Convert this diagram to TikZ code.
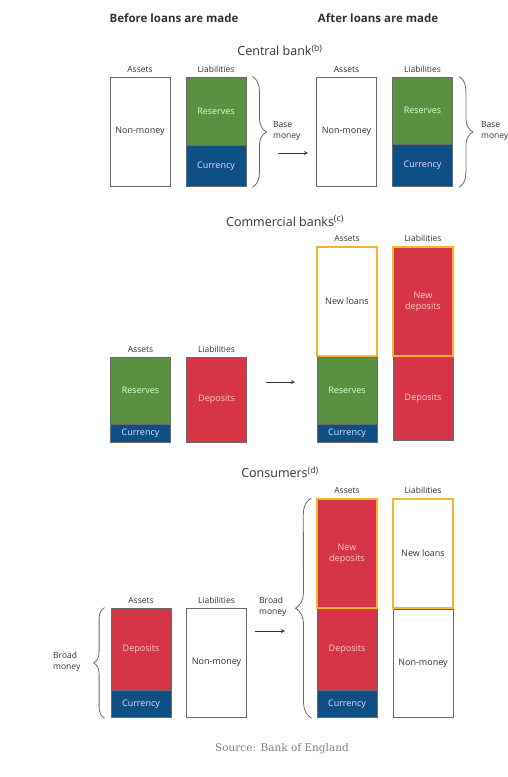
\documentclass[tikz,border=0pt]{standalone}
\usepackage{fontspec}
\setmainfont{Open Sans}
\newfontfamily\srcfont{DejaVu Serif}
\usepackage{xcolor}
\usetikzlibrary{positioning}
\usetikzlibrary{decorations.pathreplacing}
\definecolor{boeGreen}{HTML}{5A9140}
\definecolor{boeRed}{HTML}{D63447}
\definecolor{boeBlue}{HTML}{0E4F85}
\definecolor{boeOrange}{HTML}{F5B52E}
\definecolor{boxGray}{HTML}{6A6A6A}
\definecolor{txtGray}{HTML}{333333}

\begin{document}
\begin{tikzpicture}[x=1pt, y=-1pt,
    box/.style={
        draw=boxGray, line width=0.8pt,
        minimum width=60pt, inner sep=0pt,
        font=\fontsize{9}{11}\selectfont, align=center
    },
    white box/.style={box, fill=white, text=txtGray},
    green box/.style={box, fill=boeGreen, text=green!15!white},
    red box/.style={box, fill=boeRed, text=red!20!white},
    blue box/.style={box, fill=boeBlue, text=blue!12!white},
    new box/.style={draw=boeOrange, line width=1.4pt},
    col label/.style={font=\fontsize{8.5}{10}\selectfont, text=txtGray, inner sep=1pt},
    side label/.style={font=\fontsize{8.5}{11}\selectfont, text=txtGray, align=left, anchor=west, inner sep=0pt},
    title/.style={font=\fontsize{12.5}{14}\selectfont, text=txtGray},
    head/.style={font=\fontsize{11.5}{14}\selectfont\bfseries, text=txtGray},
    brace/.style={decorate, decoration={brace, amplitude=#1}, draw=boxGray, line width=0.8pt},
    arr/.style={-stealth, line width=0.8pt, txtGray}
]
\useasboundingbox (0,0) rectangle (508,777);

\node[head] (hdBefore) at (174,18) {Before loans are made};
\node[head] (hdAfter) at (378,18) {After loans are made};

% central bank
\node[title] (cbTitle) at (280,50) {Central bank\textsuperscript{(b)}};
\node[white box, minimum height=109] (cbBefA) at (140,131.5) {Non-money};
\node[col label, above=3pt of cbBefA] {Assets};
\node[green box, minimum height=68] (cbBefRes) at (216,111) {Reserves};
\node[blue box, minimum height=41, below=0pt of cbBefRes] (cbBefCur) {Currency};
\node[col label, above=3pt of cbBefRes] {Liabilities};
\draw[brace=14pt] ([xshift=6]cbBefRes.north east) -- ([xshift=6]cbBefCur.south east);
\node[side label] (cbBefBase) at (273,131) {Base\\money};

\coordinate (cbArrS) at (278,153);
\coordinate (cbArrE) at (308,153);
\draw[arr] (cbArrS) -- (cbArrE);

\node[white box, minimum height=109] (cbAftA) at (346.5,131.5) {Non-money};
\node[col label, above=3pt of cbAftA] {Assets};
\node[green box, minimum height=67] (cbAftRes) at (422.5,110.5) {Reserves};
\node[blue box, minimum height=42, below=0pt of cbAftRes] (cbAftCur) {Currency};
\node[col label, above=3pt of cbAftRes] {Liabilities};
\draw[brace=14pt] ([xshift=6]cbAftRes.north east) -- ([xshift=6]cbAftCur.south east);
\node[side label] (cbAftBase) at (481,131) {Base\\money};

% commercial banks
\node[title] (cmTitle) at (285,221) {Commercial banks\textsuperscript{(c)}};
\node[green box, minimum height=67] (cmBefRes) at (140.5,390.5) {Reserves};
\node[blue box, minimum height=18, below=0pt of cmBefRes] (cmBefCur) {Currency};
\node[col label, above=3pt of cmBefRes] {Assets};
\node[red box, minimum height=85] (cmBefDep) at (216.5,399.5) {Deposits};
\node[col label, above=3pt of cmBefDep] {Liabilities};

\coordinate (cmArrS) at (266,382);
\coordinate (cmArrE) at (295,382);
\draw[arr] (cmArrS) -- (cmArrE);

\node[green box, minimum height=67] (cmAftRes) at (347,390.5) {Reserves};
\node[blue box, minimum height=18, below=0pt of cmAftRes] (cmAftCur) {Currency};
\node[white box, new box, minimum height=109, above=0pt of cmAftRes] (cmAftLoan) {New loans};
\node[col label, above=3pt of cmAftLoan] {Assets};
\node[red box, minimum height=83] (cmAftDep) at (423,398.5) {Deposits};
\node[red box, new box, minimum height=109, above=0pt of cmAftDep] (cmAftNDep) {New\\deposits};
\node[col label, above=3pt of cmAftNDep] {Liabilities};

% consumers
\node[title] (csTitle) at (280,472) {Consumers\textsuperscript{(d)}};
\node[red box, minimum height=82] (csBefDep) at (141,649) {Deposits};
\node[blue box, minimum height=27, below=0pt of csBefDep] (csBefCur) {Currency};
\node[col label, above=3pt of csBefDep] {Assets};
\node[white box, minimum height=109] (csBefNon) at (216.5,662.5) {Non-money};
\node[col label, above=3pt of csBefNon] {Liabilities};
\draw[brace=11pt] ([xshift=-6]csBefCur.south west) -- ([xshift=-6]csBefDep.north west);
\node[side label] (csBefBroad) at (53,662) {Broad\\money};

\coordinate (csArrS) at (255,631);
\coordinate (csArrE) at (285,631);
\draw[arr] (csArrS) -- (csArrE);
\node[side label] (csAftBroad) at (259,607) {Broad\\money};

\node[red box, minimum height=81] (csAftDep) at (347,649.5) {Deposits};
\node[blue box, minimum height=27, below=0pt of csAftDep] (csAftCur) {Currency};
\node[red box, new box, minimum height=109, above=0pt of csAftDep] (csAftNDep) {New\\deposits};
\node[col label, above=3pt of csAftNDep] {Assets};
\node[white box, minimum height=108] (csAftNon) at (423,663) {Non-money};
\node[white box, new box, minimum height=109, above=0pt of csAftNon] (csAftLoan) {New loans};
\node[col label, above=3pt of csAftLoan] {Liabilities};
\draw[brace=16pt] ([xshift=-5]csAftCur.south west) -- ([xshift=-5]csAftNDep.north west);

\node[font=\srcfont\fontsize{10.5}{12}\selectfont, text=black!50] (source) at (282,749) {Source: Bank of England};
\end{tikzpicture}
\end{document}
